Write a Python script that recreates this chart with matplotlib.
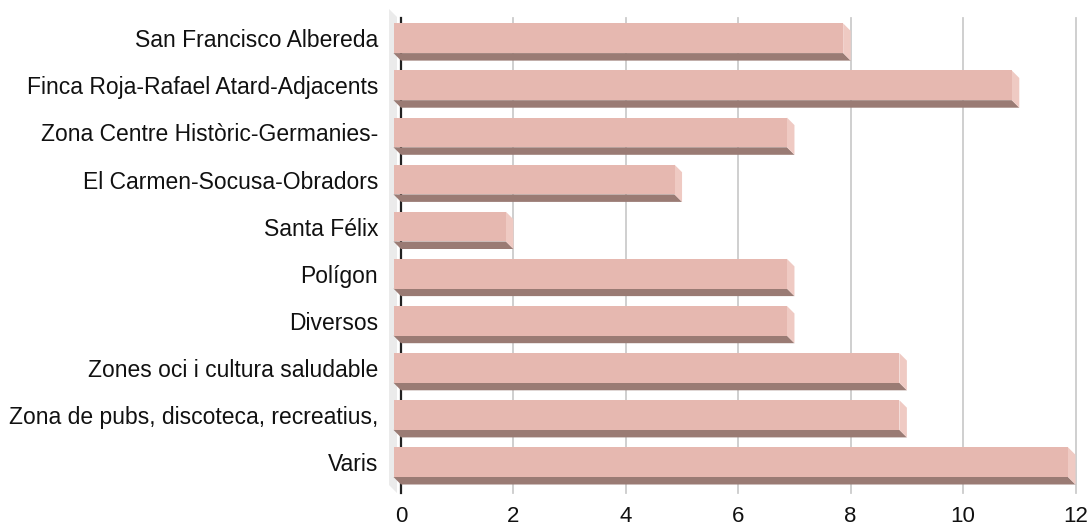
import matplotlib
matplotlib.use("Agg")
import matplotlib.pyplot as plt
from matplotlib.patches import Polygon

categories = [
    "San Francisco Albereda",
    "Finca Roja-Rafael Atard-Adjacents",
    "Zona Centre Històric-Germanies-",
    "El Carmen-Socusa-Obradors",
    "Santa Félix",
    "Polígon",
    "Diversos",
    "Zones oci i cultura saludable",
    "Zona de pubs, discoteca, recreatius,",
    "Varis",
]
values = [8, 11, 7, 5, 2, 7, 7, 9, 9, 12]
x_ticks = [0, 2, 4, 6, 8, 10, 12]

FRONT = "#e6b8b0"
BOTTOM = "#9a7b74"
SIDE = "#efcac3"
WALL = "#ebebeb"

W, H, DPI = 1091, 529, 100
fig = plt.figure(figsize=(W / DPI, H / DPI), dpi=DPI)

# plot area (back plane) in pixels
left_px, right_px = 401, 1075.5
top_px, bot_px = 22.2, 493.2
ax = fig.add_axes([left_px / W, 1 - bot_px / H,
                   (right_px - left_px) / W, (bot_px - top_px) / H])
n = len(categories)
ax.set_xlim(0, 12)
ax.set_ylim(n - 0.5, -0.5)

px_x = (right_px - left_px) / 12.0
px_y = (bot_px - top_px) / n
depth = 7.5
dx = depth / px_x
dy = depth / px_y
h = 29.7 / px_y

for s in ax.spines.values():
    s.set_visible(False)

# side wall on the left
def to_data(px, py):
    return ((px - left_px) / px_x, (py - top_px) / px_y - 0.5)

wall = [to_data(389, 9), to_data(397, 17), to_data(397, 493), to_data(389, 485)]
ax.add_patch(Polygon(wall, closed=True, facecolor=WALL, edgecolor="none",
                     clip_on=False, zorder=0))

# grid lines and the zero axis
y_top = -0.5 - 4 / px_y
for xt in x_ticks[1:]:
    ax.plot([xt, xt], [y_top, n - 0.5], color="#cccccc", lw=1.3,
            clip_on=False, zorder=1)
ax.plot([0, 0], [y_top, n - 0.5], color="#222222", lw=1.6,
        clip_on=False, zorder=1)

# 3D-looking bars: front face, bottom face and right side face
for i, v in enumerate(values):
    yt = i - h / 2
    yb = i + h / 2
    bottom = [(-dx, yb - dy), (v - dx, yb - dy), (v, yb), (0, yb)]
    side = [(v - dx, yt - dy), (v, yt), (v, yb), (v - dx, yb - dy)]
    ax.add_patch(Polygon(bottom, closed=True, facecolor=BOTTOM,
                         edgecolor="none", clip_on=False, zorder=3))
    ax.add_patch(Polygon(side, closed=True, facecolor=SIDE,
                         edgecolor="none", clip_on=False, zorder=3))
    ax.add_patch(plt.Rectangle((-dx, yt - dy), v, h, facecolor=FRONT,
                               edgecolor="none", clip_on=False, zorder=4))

ax.set_yticks([i - dy for i in range(n)])
ax.set_yticklabels(categories, fontsize=16.5, family="Liberation Sans",
                   color="#111111")
ax.set_xticks(x_ticks)
ax.set_xticklabels([str(t) for t in x_ticks], fontsize=16,
                   family="Liberation Sans", color="#111111")
ax.tick_params(axis="y", length=0, pad=16.5)
ax.tick_params(axis="x", length=0, pad=9)

fig.savefig("out.png", dpi=DPI, facecolor="white")
